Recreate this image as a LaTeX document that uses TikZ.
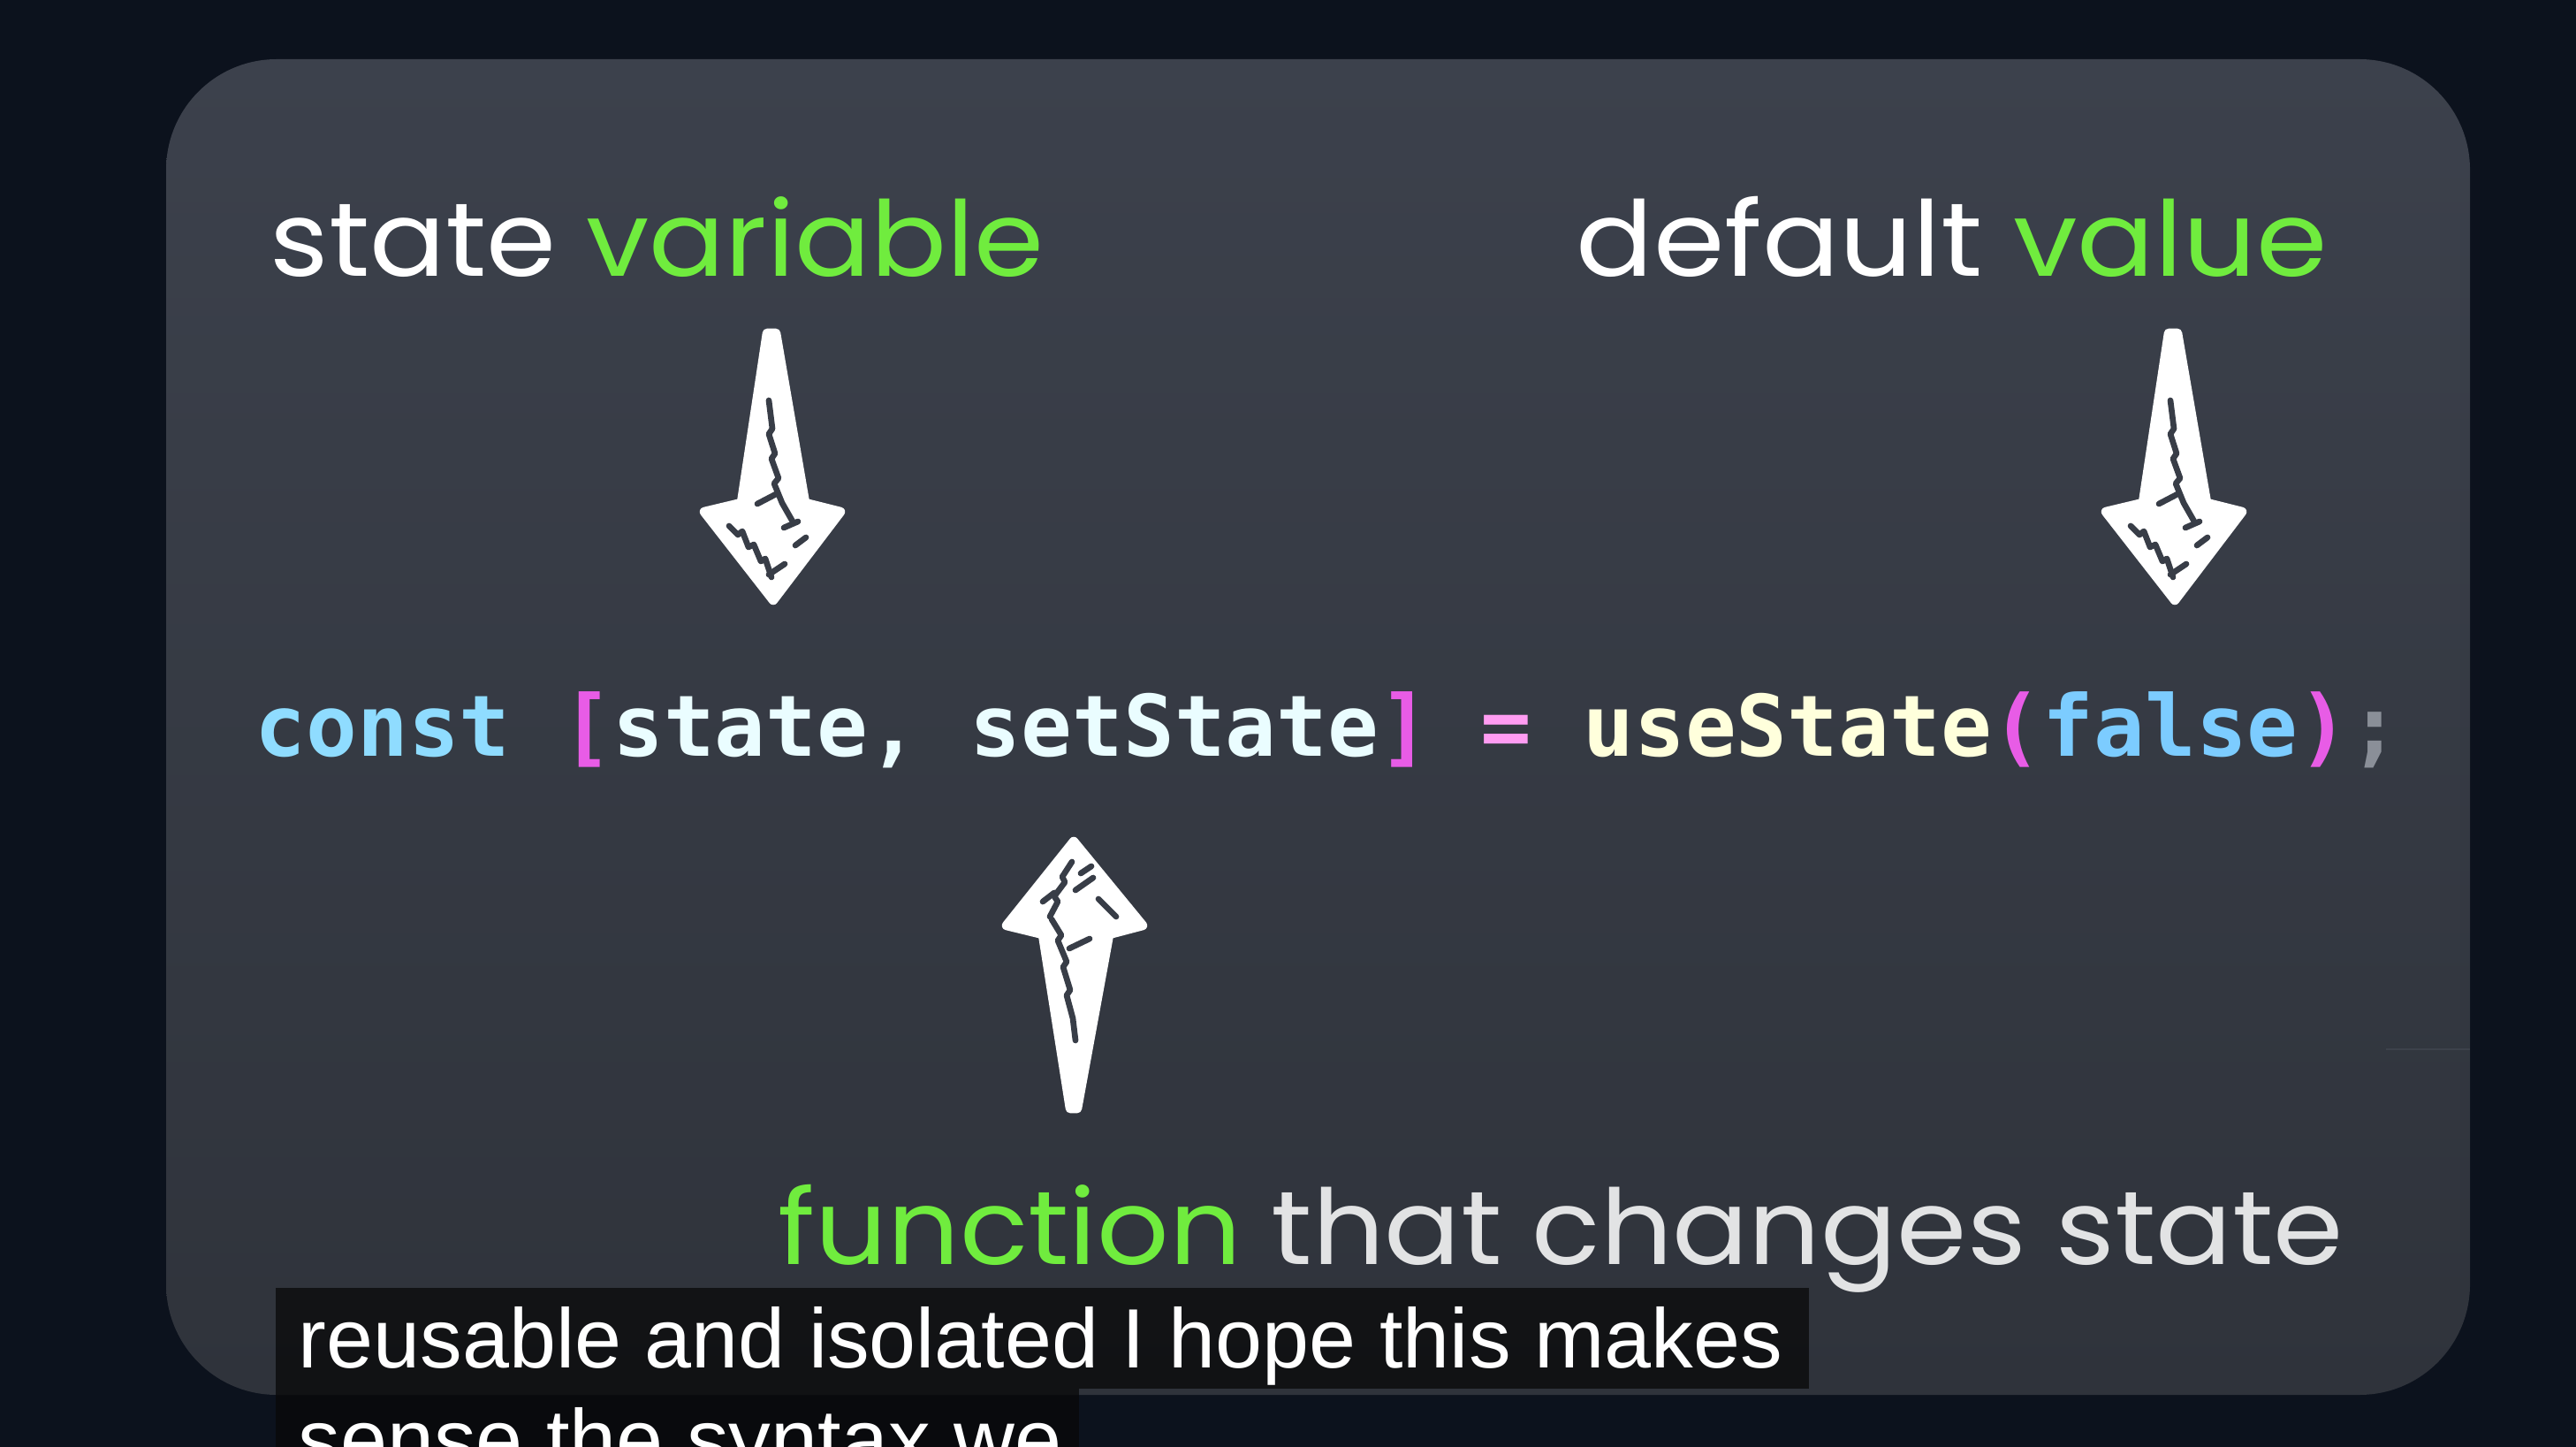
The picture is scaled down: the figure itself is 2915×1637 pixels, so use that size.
\documentclass[tikz,border=0pt]{standalone}
\usepackage{fontspec}
\usepackage{graphicx}
\newfontfamily\labelfont{Poppins}
\newfontfamily\codefont{DejaVu Sans Mono}
\newfontfamily\capfont{Liberation Sans}
\definecolor{bg}{HTML}{0C121D}
\definecolor{paneltop}{HTML}{3C414C}
\definecolor{panelbot}{HTML}{2F333B}
\definecolor{hatchc}{HTML}{383D47}
\definecolor{greenc}{RGB}{112,236,62}
\definecolor{lightgray}{HTML}{E2E3E4}
\definecolor{constc}{HTML}{8FDCFF}
\definecolor{brkc}{HTML}{E85CE6}
\definecolor{identc}{HTML}{EAFDFF}
\definecolor{eqc}{HTML}{FF9CF2}
\definecolor{fnc}{HTML}{FFFFDC}
\definecolor{falsec}{HTML}{7CCCFF}
\definecolor{semic}{HTML}{8A8F98}
\definecolor{capbg}{RGB}{8,8,8}
\tikzset{
  labeltext/.style={inner sep=0pt, anchor=base west, font=\labelfont\fontsize{33.6pt}{40pt}\selectfont},
  codetext/.style={inner sep=0pt, anchor=base west, font=\codefont\bfseries\fontsize{27.3pt}{32pt}\selectfont},
  captext/.style={inner sep=0pt, anchor=base west, text=white, font=\capfont\fontsize{27.1pt}{32pt}\selectfont},
  capbox/.style={fill=capbg, fill opacity=0.75},
  arrowbody/.style={fill=white, draw=white, line width=3pt, line join=round},
  hatch/.style={draw=hatchc, line width=1.9pt, line cap=round, line join=round},
  sketchdown/.pic={
    \path[arrowbody] (-5,4) -- (-34,196) -- (-76,206) -- (2,306) -- (78,206) -- (38,196) -- (5,4) -- cycle;
    \draw[hatch] (-3,80) -- (1,112) -- (-3,118) -- (4,140) -- (0,146) -- (8,168) -- (3,174) -- (12,196) -- (24,217);
    \draw[hatch] (-16,197) -- (7,185);
    \draw[hatch] (-48,222) -- (-38,232) -- (-33,228) -- (-26,246) -- (-20,243) -- (-12,262) -- (-7,259) -- (0,280);
    \draw[hatch] (14,224) -- (30,217);
    \draw[hatch] (27,244) -- (39,235);
    \draw[hatch] (-3,277) -- (15,265);
  },
  sketchup/.pic={
    \path[arrowbody] (0,4) -- (78,99) -- (40,109) -- (4,306) -- (-4,306) -- (-35,109) -- (-76,99) -- cycle;
    \draw[hatch] (-25,92) -- (-14,110) -- (-18,116) -- (-8,140) -- (-12,146) -- (-4,172) -- (-8,178) -- (-1,204) -- (2,229);
    \draw[hatch] (-5,125) -- (18,114);
    \draw[hatch] (-27,89) -- (-18,72) -- (-22,66) -- (-10,50) -- (-13,44) -- (-2,27);
    \draw[hatch] (2,59) -- (22,45);
    \draw[hatch] (28,69) -- (48,89);
    \draw[hatch] (-35,72) -- (-22,62);
    \draw[hatch] (8,40) -- (20,32);
  },
}
\begin{document}
\begin{tikzpicture}[x=0.01cm,y=-0.01cm]
  \useasboundingbox (0,0) rectangle (2915,1637);
  \fill[bg] (0,0) rectangle (2915,1637);
  % panel
  \shade[top color=paneltop, bottom color=panelbot, rounded corners=1.25cm] (188,67) rectangle (2795,1578);
  \draw[color=paneltop!85!white, line width=0.6pt, opacity=0.3] (2700,1187) -- (2795,1187);

  % labels
  \node[labeltext] (sv) at (305,313) {\scalebox{1.076}[1]{\textcolor{white}{state} \textcolor{greenc}{variable}}};
  \node[labeltext] (dv) at (1783,313) {\scalebox{1.096}[1]{\textcolor{white}{default} \textcolor{greenc}{value}}};
  \node[labeltext] (fn) at (880,1430) {\scalebox{1.08}[1]{\textcolor{greenc}{function} \textcolor{lightgray}{that changes state}}};

  % code line
  \node[codetext] (code) at (288,855) {\textcolor{constc}{const} \textcolor{brkc}{[}\textcolor{identc}{state,} \textcolor{identc}{setState}\textcolor{brkc}{]} \textcolor{eqc}{=} \textcolor{fnc}{useState}\textcolor{brkc}{(}\textcolor{falsec}{false}\textcolor{brkc}{)}\textcolor{semic}{;}};

  % arrows
  \pic at (873,373) {sketchdown};
  \pic at (2459,373) {sketchdown};
  \pic at (1215,948) {sketchup};

  % captions
  \fill[capbox] (312,1457) rectangle (2047,1571);
  \fill[capbox] (312,1571) rectangle (1221,1637);
  \node[captext] (cap1) at (337,1547) {reusable and isolated I hope this makes};
  \begin{scope}
    \clip (0,0) rectangle (2915,1637);
    \node[captext] (cap2) at (337,1661) {sense the syntax we};
  \end{scope}
\end{tikzpicture}
\end{document}
